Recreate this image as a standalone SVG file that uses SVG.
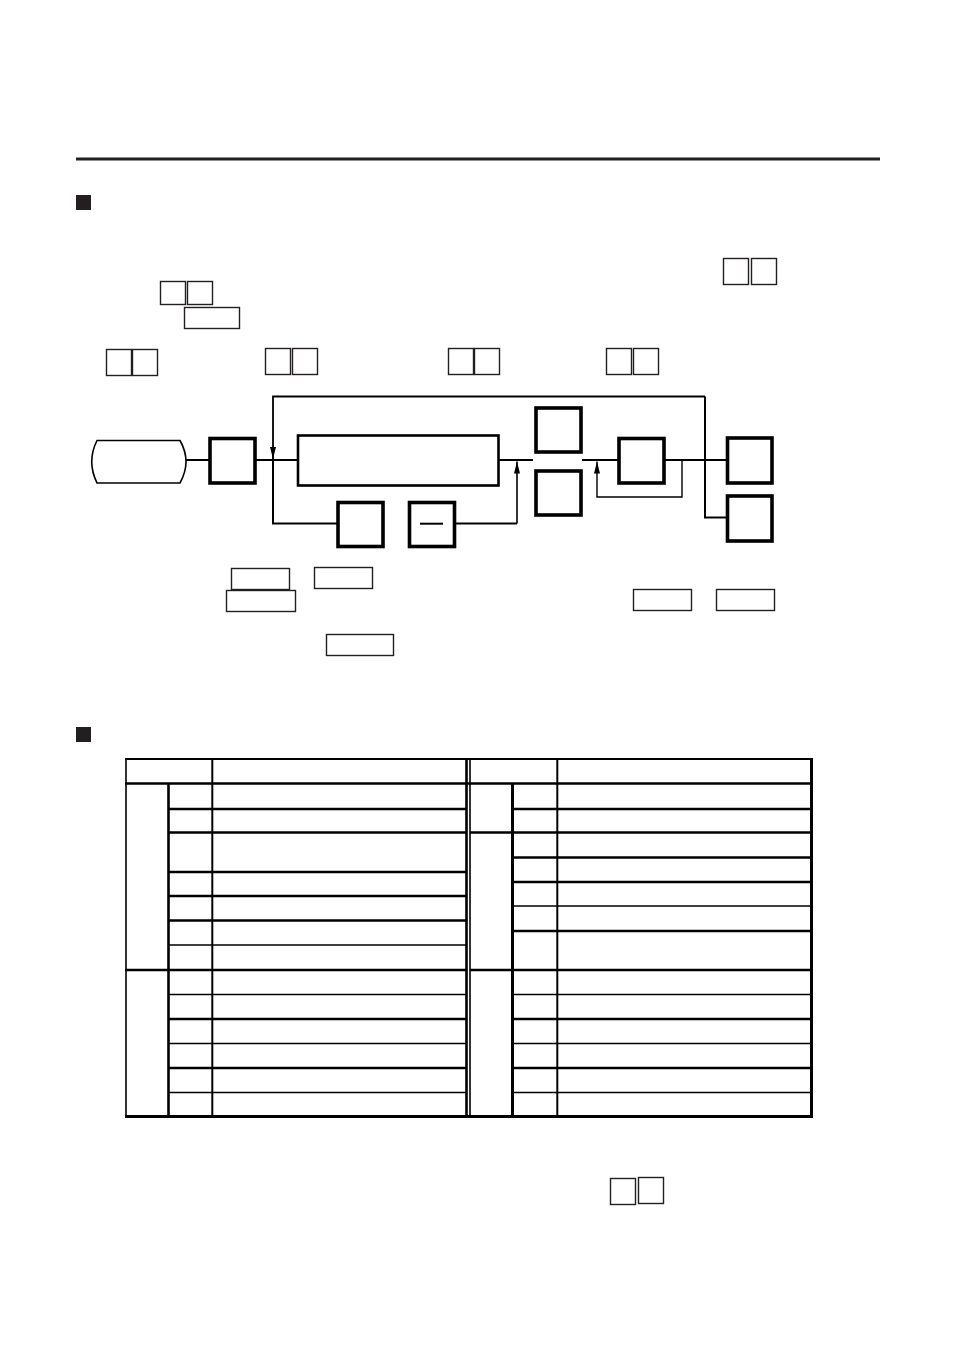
<svg xmlns="http://www.w3.org/2000/svg" width="954" height="1348" viewBox="0 0 954 1348">
<style>
.key{fill:#fff;stroke:#231f20;stroke-width:1.4}
.node{fill:#fff;stroke:#000;stroke-width:3.6}
.con{fill:none;stroke:#000;stroke-width:2}
.thin{fill:none;stroke:#000;stroke-width:1.4}
.tk{stroke:#000;stroke-width:2.6}
.tn{stroke:#000;stroke-width:1.6}
</style>
<defs>
<marker id="ah" viewBox="0 0 12 6" refX="12" refY="3" markerWidth="12" markerHeight="6" markerUnits="userSpaceOnUse" orient="auto"><path d="M0,0 L12,3 L0,6 Z" fill="#000"/></marker>
</defs>
<rect width="954" height="1348" fill="#fff"/>
<line x1="76" y1="159" x2="880" y2="159" stroke="#231f20" stroke-width="3"/>
<rect x="76" y="195" width="15" height="15" fill="#231f20"/>
<rect x="76" y="727" width="15" height="15" fill="#231f20"/>
<g id="keys">
<rect class="key" x="723.5" y="258.5" width="25" height="26"/>
<rect class="key" x="751.5" y="258.5" width="25" height="26"/>
<rect class="key" x="160.5" y="281.5" width="25" height="23"/>
<rect class="key" x="187.5" y="281.5" width="25" height="23"/>
<rect class="key" x="184.5" y="307.5" width="55" height="21"/>
<rect class="key" x="106.5" y="349.5" width="25" height="26"/>
<rect class="key" x="132.5" y="349.5" width="25" height="26"/>
<rect class="key" x="265.5" y="348.5" width="25" height="26"/>
<rect class="key" x="292.5" y="348.5" width="25" height="26"/>
<rect class="key" x="448.5" y="348.5" width="25" height="26"/>
<rect class="key" x="474.5" y="348.5" width="25" height="26"/>
<rect class="key" x="606.5" y="348.5" width="25" height="26"/>
<rect class="key" x="633.5" y="348.5" width="25" height="26"/>
<rect class="key" x="231.5" y="568.5" width="58" height="21"/>
<rect class="key" x="226.5" y="590.5" width="69" height="21"/>
<rect class="key" x="314.5" y="567.5" width="58" height="21"/>
<rect class="key" x="326.5" y="634.5" width="67" height="21"/>
<rect class="key" x="633.5" y="589.5" width="58" height="21"/>
<rect class="key" x="716.5" y="589.5" width="58" height="21"/>
<rect class="key" x="610.5" y="1178.5" width="25" height="26"/>
<rect class="key" x="638.5" y="1177.5" width="25" height="26"/>
</g>
<g id="connectors">
<line class="con" x1="186" y1="460" x2="209" y2="460"/>
<line class="con" x1="255" y1="460" x2="298" y2="460"/>
<polyline class="con" style="stroke-width:1.8" points="705,396.5 273,396.5 273,459" marker-end="url(#ah)"/>
<polyline class="con" points="273,458 273,523.5 337,523.5"/>
<line class="con" x1="455" y1="523.5" x2="517" y2="523.5"/>
<polyline class="con" style="stroke-width:1.6" points="517,523.5 517,461.5" marker-end="url(#ah)"/>
<line class="con" x1="499" y1="460" x2="533" y2="460"/>
<line class="con" x1="582" y1="460" x2="618" y2="460"/>
<polyline class="thin" points="682,460 682,497 597,497 597,461.5" marker-end="url(#ah)"/>
<line class="con" x1="664" y1="460" x2="726" y2="460"/>
<polyline class="con" points="705,396.5 705,517.5 726,517.5"/>
</g>
<g id="start"><path d="M97,440.5 L180,440.5 Q192,461.5 180,483 L97,483 Q86.5,461.5 97,440.5 Z" fill="#fff" stroke="#000" stroke-width="1.6"/></g>
<g id="n1"><rect class="node" x="210" y="438.5" width="45" height="44.5"/></g>
<g id="n2"><rect x="298" y="435.5" width="200.5" height="50" fill="#fff" stroke="#000" stroke-width="2.6"/></g>
<g id="n3"><rect class="node" x="338" y="502.5" width="45" height="44"/></g>
<g id="n4"><rect class="node" x="409.5" y="502.5" width="45" height="44"/><line x1="420" y1="523.7" x2="443" y2="523.7" stroke="#000" stroke-width="2"/></g>
<g id="n5"><rect class="node" x="536" y="408" width="45" height="44"/></g>
<g id="n6"><rect class="node" x="536" y="471" width="45" height="44"/></g>
<g id="n7"><rect class="node" x="619" y="438.5" width="45" height="44.5"/></g>
<g id="n8"><rect class="node" x="727.5" y="438" width="44.5" height="45"/></g>
<g id="n9"><rect class="node" x="727.5" y="496" width="44.5" height="45"/></g>
<g id="table">
<g class="tk">
<line x1="125" y1="759" x2="813" y2="759" style="stroke-width:2"/>
<line x1="125" y1="783.5" x2="813" y2="783.5"/>
<line x1="125" y1="1116.5" x2="813" y2="1116.5" style="stroke-width:3"/>
<line x1="168.5" y1="783.5" x2="168.5" y2="1117"/>
<line x1="466.5" y1="758" x2="466.5" y2="1117"/>
<line x1="512.5" y1="783.5" x2="512.5" y2="1117" style="stroke-width:3"/>
<line x1="811.5" y1="758" x2="811.5" y2="1117" style="stroke-width:3"/>
<line x1="168" y1="809" x2="466" y2="809"/>
<line x1="168" y1="832.5" x2="466" y2="832.5"/>
<line x1="168" y1="872" x2="466" y2="872"/>
<line x1="168" y1="896" x2="466" y2="896"/>
<line x1="168" y1="920.5" x2="466" y2="920.5"/>
<line x1="125" y1="970" x2="466" y2="970"/>
<line x1="168" y1="1019" x2="466" y2="1019"/>
<line x1="168" y1="1068" x2="466" y2="1068"/>
<line x1="512" y1="809" x2="812" y2="809"/>
<line x1="470" y1="832.5" x2="812" y2="832.5"/>
<line x1="512" y1="857.5" x2="812" y2="857.5"/>
<line x1="512" y1="882" x2="812" y2="882"/>
<line x1="512" y1="931" x2="812" y2="931"/>
<line x1="470" y1="970" x2="812" y2="970"/>
<line x1="512" y1="1019" x2="812" y2="1019"/>
<line x1="512" y1="1068" x2="812" y2="1068"/>
</g>
<g class="tn">
<line x1="126" y1="758" x2="126" y2="1117"/>
<line x1="212.3" y1="758" x2="212.3" y2="1117" style="stroke-width:2"/>
<line x1="470" y1="758" x2="470" y2="1117"/>
<line x1="557.3" y1="758" x2="557.3" y2="1117" style="stroke-width:2"/>
<line x1="168" y1="945" x2="466" y2="945"/>
<line x1="168" y1="994.5" x2="466" y2="994.5"/>
<line x1="168" y1="1043.5" x2="466" y2="1043.5"/>
<line x1="168" y1="1092.5" x2="466" y2="1092.5"/>
<line x1="512" y1="906" x2="812" y2="906"/>
<line x1="512" y1="994.5" x2="812" y2="994.5"/>
<line x1="512" y1="1043.5" x2="812" y2="1043.5"/>
<line x1="512" y1="1092.5" x2="812" y2="1092.5"/>
</g>
</g>
</svg>
